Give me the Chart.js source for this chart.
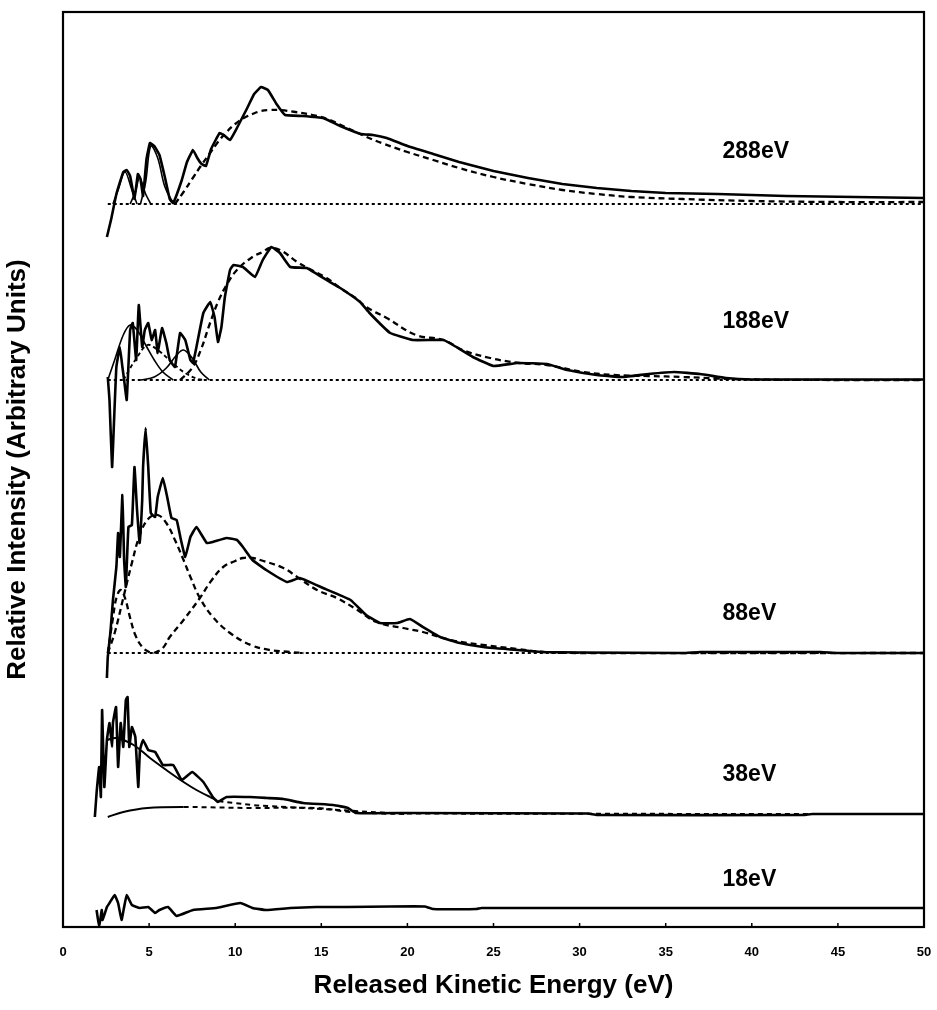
<!DOCTYPE html>
<html><head><meta charset="utf-8">
<script src="https://cdn.jsdelivr.net/npm/chart.js@4.4.1/dist/chart.umd.min.js"></script>
<style>html,body{margin:0;padding:0;background:#fff}canvas{display:block}</style>
</head><body>
<canvas id="c" width="937" height="1010"></canvas>
<script>
// ---------- axis ----------
const xTickValues = [0,5,10,15,20,25,30,35,40,45,50];
const xTitle = 'Released Kinetic Energy (eV)';
const yTitle = 'Relative Intensity (Arbitrary Units)';

// ---------- spectra (photon energy) ----------
const spectrumNames = ['288eV','188eV','88eV','38eV','18eV'];
const spectrumOffsets = [723, 547, 274, 113, 19];   // vertical stacking offsets (arb. units)
const labelHeights = [775, 605, 313, 152, 47];       // label level (arb. units)
const labelEnergy = 38.3;                            // label left edge (eV)

// 288 eV
const e288 = [2.55,2.8,3.1,3.5,3.7,3.9,4.15,4.35,4.5,4.65,4.85,5.05,5.3,5.6,5.9,6.2,6.4,6.9,7.2,7.55,7.8,8.05,8.3,8.6,9.1,9.4,9.7,10.1,10.7,11.1,11.5,11.9,12.4,12.9,13.9,15.1,16.1,17.3,18.0,18.8,20.0,21.5,23.0,25.0,27.0,29.0,31.0,33.0,35.0,38.0,42.0,46.0,50.0];
const i288 = [-33,-15,10,32,34,28,5,30,25,8,45,61,58,49,28,5,1,24,42,54,46,40,38,55,71,68,64,76,96,110,117,114,100,89,88,86,78,70,69,66,58,50,42,33,26,20,16,13,11,10,8,7,6];
const eFit288 = [6.5,7.0,7.5,8.0,8.5,9.0,9.5,10.0,10.5,11.0,11.5,12.0,12.6,13.5,14.5,15.5,16.5,17.5,18.5,20.0,21.5,23.0,25.0,27.0,29.0,31.0,33.0,36.0,40.0,45.0,50.0];
const iFit288 = [0,12,25,38,50,62,72,80,86,90,93,94,94,92,89,84,76,68,61,52,44,36,27,20,14,10,7,5,3,2,2];
const ePkA288 = [2.9,3.2,3.6,4.0,4.3];           const iPkA288 = [0,14,32,14,0];
const ePkB288 = [3.9,4.2,4.45,4.8,5.1];          const iPkB288 = [0,12,26,10,0];
const ePkC288 = [4.5,4.8,5.1,5.5,5.9,6.3,6.6];   const iPkC288 = [0,22,58,46,18,4,0];

// 188 eV
const e188 = [2.6,2.7,2.85,2.95,3.1,3.3,3.45,3.55,3.7,3.9,4.05,4.25,4.4,4.6,4.75,4.95,5.15,5.35,5.5,5.75,6.0,6.2,6.5,6.8,7.1,7.4,7.55,7.75,8.15,8.55,8.8,9.0,9.2,9.4,9.7,9.9,10.45,11.15,11.6,12.1,12.6,13.2,14.15,15.3,16.1,17.25,17.8,19.0,20.3,22.1,22.65,23.8,25.0,26.4,28.1,29.3,31.0,32.5,34.0,35.5,37.0,38.5,40,45,50];
const i188 = [3,-20,-87,-47,13,33,13,0,-20,50,57,20,75,33,50,57,40,50,27,52,37,20,13,47,40,20,17,33,67,78,63,38,53,83,110,115,113,103,120,133,127,113,112,100,92,78,67,47,40,40,35,23,14,17,16,10,5,3,6,8,6,2,0.5,0.5,0.5];
const eFit188 = [6.8,7.5,8.0,8.5,9.0,9.5,10.1,11.0,11.6,12.0,12.6,13.6,14.2,15.3,16.1,17.0,17.6,18.8,20.5,22.1,23.2,24.8,26.5,28.1,30.2,32,34,36,38,40,45,50];
const iFit188 = [0,12,30,55,78,95,110,123,128,132,130,118,112,102,92,82,73,62,45,40,30,22,17,15,8,5,4,3,1.5,0.5,0,0];
const ePkA188 = [2.6,3.0,3.5,3.9,4.3,4.8,5.3,5.8,6.4];  const iPkA188 = [0,20,45,55,50,35,20,8,0];
const ePkB188 = [3.5,4.2,4.9,5.5,6.3,7.0,7.8,8.2];      const iPkB188 = [0,20,35,30,18,8,1,0];
const ePkC188 = [4.5,5.3,6.0,6.6,7.0,7.5,8.0,8.5];      const iPkC188 = [0,3,12,25,30,22,8,0];

// 88 eV
const e88 = [2.55,2.6,2.75,2.9,3.1,3.2,3.3,3.45,3.55,3.65,3.8,4.0,4.15,4.3,4.45,4.6,4.65,4.8,4.95,5.1,5.35,5.5,5.8,6.05,6.3,6.6,6.85,7.1,7.4,7.75,8.35,8.7,9.5,10.1,10.45,11.0,11.8,13.0,13.75,15.1,16.7,17.6,18.4,19.4,20.15,20.9,21.9,23.05,24.4,26.4,27.9,30,36,37,44,45,50];
const i88 = [-25,-4,20,53,86,120,96,158,93,66,126,128,186,143,110,153,186,225,186,140,136,156,175,156,135,133,113,96,116,126,110,111,115,113,106,93,83,71,75,65,53,38,30,30,34,26,16,10,6,3,1,0.5,0,1,1,0,0];
const eNarrow88 = [2.6,2.9,3.1,3.35,3.6,3.9,4.2,4.6,5.0,5.3];
const iNarrow88 = [0,35,55,63,55,35,18,6,1,0];
const eMid88 = [2.6,3.0,3.5,4.0,4.5,5.0,5.5,6.0,6.5,7.0,7.4,7.95,8.7,9.7,10.9,12.0,13.2,14.0];
const iMid88 = [0,20,55,90,120,135,138,130,113,93,76,55,36,20,8,3,1,0];
const eBroad88 = [5.3,5.8,6.2,7.0,7.95,8.6,9.3,10.0,10.45,11.0,11.45,12.8,13.6,14.75,15.9,17.1,18.2,19.75,20.9,22.5,24.4,26.4,27.9,30,50];
const iBroad88 = [0,5,16,33,55,72,86,92,95,95,93,85,76,63,55,43,31,25,21,13,8,4,1,0,0];

// 38 eV
const e38 = [1.85,1.95,2.1,2.2,2.27,2.4,2.55,2.7,2.85,2.9,3.08,3.2,3.35,3.5,3.65,3.75,3.85,4.0,4.2,4.37,4.47,4.65,4.95,5.35,5.8,6.4,6.9,7.5,8.15,8.7,9.0,9.5,10.85,11.85,12.8,13.95,15.7,16.55,17,20,30.5,31,43,43.5,50];
const i38 = [-3,21,47,17,104,27,74,91,67,91,107,47,91,67,114,117,67,87,77,27,64,74,64,62,49,49,34,42,32,17,12,17,17,16,15,11,9,6,1,1,0.5,-1,-1,0,0];
const eFit38 = [2.55,3.1,4.1,5.05,6.0,7.0,7.75,8.55,9.1,10.0,11.0,12.0,13.0,14.0,15.0,16.0,17.0,18.5,20,50];
const iFit38 = [74,76,69,56,44,32,24,17,13,11,9,8,7,6,5,4,3,1.5,0.5,0];
const eBg38 = [2.6,3.5,4.9,7.0,10.9,14.75,16.7,18.5,20];
const iBg38 = [-3,2,6,7,6,6,2,0.5,0];

// 18 eV
const e18 = [1.95,2.1,2.25,2.3,2.55,2.7,3.0,3.2,3.4,3.55,3.7,4.0,4.47,4.95,5.35,5.6,6.1,6.6,7.55,8.9,10.3,11.0,11.8,13.2,14.7,16.5,19,21,21.5,24,24.3,50];
const i18 = [-2,-19,-2,-12,1,5,13,5,-12,1,13,3,0,1,-5,-2,1,-8,-2,0,5,0,-2,0,1,1,1.5,1.5,-1,-1,0,0];

// baselines (energy span)
const eBase = [2.6, 50];
const iBase = [0, 0];

// ---------- build ----------
function pts(xs, ys, off) { return xs.map((x, k) => ({x: x, y: ys[k] + off})); }
const DATA = {borderColor:'#000', borderWidth:2.6, tension:0.1};
const FIT  = {borderColor:'#000', borderWidth:2.3, borderDash:[6,4], tension:0.4};
const COMP = {borderColor:'#000', borderWidth:1.6, tension:0.35};
const BASE = {borderColor:'#000', borderWidth:2.2, borderDash:[3,3]};
const TAILDASH = (from) => ({borderDash: c => c.p0.parsed.x >= from ? [5,4] : undefined});

const [o288,o188,o88,o38,o18] = spectrumOffsets;
const datasets = [
  {data: pts(e288,i288,o288), ...DATA},
  {data: pts(eFit288,iFit288,o288), ...FIT},
  {data: pts(ePkA288,iPkA288,o288), ...COMP},
  {data: pts(ePkB288,iPkB288,o288), ...COMP},
  {data: pts(ePkC288,iPkC288,o288), ...COMP},
  {data: pts(eBase,iBase,o288), ...BASE},

  {data: pts(e188,i188,o188), ...DATA},
  {data: pts(eFit188,iFit188,o188), ...FIT},
  {data: pts(ePkA188,iPkA188,o188), ...COMP},
  {data: pts(ePkB188,iPkB188,o188), ...COMP, borderDash:[4,3], borderWidth:1.9},
  {data: pts(ePkC188,iPkC188,o188), ...COMP},
  {data: pts(eBase,iBase,o188), ...BASE},

  {data: pts(e88,i88,o88), ...DATA},
  {data: pts(eNarrow88,iNarrow88,o88), ...FIT},
  {data: pts(eMid88,iMid88,o88), ...FIT},
  {data: pts(eBroad88,iBroad88,o88), ...FIT},
  {data: pts(eBase,iBase,o88), ...BASE},

  {data: pts(e38,i38,o38), ...DATA},
  {data: pts(eFit38,iFit38,o38), ...COMP, borderWidth:2, segment: TAILDASH(8.5)},
  {data: pts(eBg38,iBg38,o38), ...COMP, borderWidth:2, segment: TAILDASH(7.0)},

  {data: pts(e18,i18,o18), ...DATA}
];

const FONT = '"Liberation Sans", Arial, sans-serif';
const frame = {
  id: 'frame',
  afterDatasetsDraw(chart) {
    const {ctx, chartArea: a, scales: {x, y}} = chart;
    ctx.save();
    ctx.strokeStyle = '#000';
    ctx.lineWidth = 2.2;
    ctx.strokeRect(a.left, a.top, a.right - a.left, a.bottom - a.top);
    ctx.lineWidth = 1.5;
    xTickValues.forEach(v => {
      const px = x.getPixelForValue(v);
      ctx.beginPath(); ctx.moveTo(px, a.bottom); ctx.lineTo(px, a.bottom - 4); ctx.stroke();
    });
    ctx.fillStyle = '#000';
    ctx.font = 'bold 23px ' + FONT;
    ctx.textAlign = 'left';
    ctx.textBaseline = 'middle';
    spectrumNames.forEach((t, k) => {
      ctx.fillText(t, x.getPixelForValue(labelEnergy), y.getPixelForValue(labelHeights[k]));
    });
    ctx.restore();
  }
};

new Chart(document.getElementById('c'), {
  type: 'line',
  data: {datasets},
  options: {
    responsive: false,
    devicePixelRatio: 1,
    animation: false,
    layout: {padding: {top: 12, right: 13, left: 0, bottom: 0}},
    elements: {point: {radius: 0}},
    plugins: {legend: {display: false}, tooltip: {enabled: false}},
    scales: {
      x: {
        type: 'linear', min: 0, max: 50,
        afterBuildTicks: s => { s.ticks = xTickValues.map(v => ({value: v})); },
        afterFit: s => { s.height = 83; s.paddingLeft = 0; s.paddingRight = 0; },
        grid: {display: false, drawTicks: false},
        border: {display: false},
        ticks: {color: '#000', padding: 18, font: {family: FONT, weight: 'bold', size: 13}},
        title: {display: true, text: xTitle, color: '#000', padding: {top: 0, bottom: 9},
                font: {family: FONT, weight: 'bold', size: 26}}
      },
      y: {
        type: 'linear', min: 0, max: 915,
        afterFit: s => { s.width = 63; s.paddingTop = 0; s.paddingBottom = 0; },
        grid: {display: false, drawTicks: false},
        border: {display: false},
        ticks: {display: false},
        title: {display: true, text: yTitle, color: '#000', padding: {top: 2, bottom: 0},
                font: {family: FONT, weight: 'bold', size: 26}}
      }
    }
  },
  plugins: [frame]
});
</script>
</body></html>
